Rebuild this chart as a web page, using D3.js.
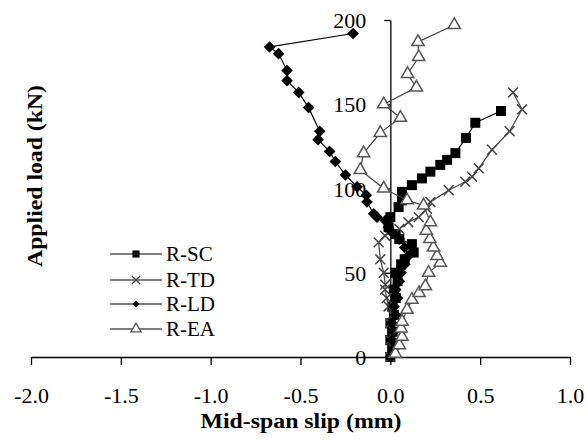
<!DOCTYPE html>
<html><head><meta charset="utf-8">
<script src="https://cdn.jsdelivr.net/npm/d3@7"></script>
<style>body{margin:0;background:#fff}svg{display:block}</style>
</head><body><div id="chart"></div>
<script>
const xTicks = [-2.0, -1.5, -1.0, -0.5, 0.0, 0.5, 1.0];
const yTicks = [0, 50, 100, 150, 200];
const seriesNames = ["R-SC", "R-TD", "R-LD", "R-EA"];

const rSC = [[0.0,0],[0.01,5],[0.0,10],[0.01,15],[0.0,20],[0.02,25],[0.01,30],[0.03,35],[0.02,40],[0.04,45],[0.03,50],[0.06,55],[0.08,58],[0.13,62],[0.12,67],[0.05,70],[0.03,73],[-0.01,77],[0.0,83],[0.046,89],[0.065,93],[0.065,98],[0.12,102],[0.176,106],[0.223,110],[0.278,114],[0.316,117],[0.362,121],[0.421,130],[0.473,139],[0.616,146]];
const rTD = [[0.0,0],[0.02,5],[0.0,10],[0.02,15],[0.0,20],[0.01,25],[-0.01,30],[-0.02,35],[-0.03,40],[-0.028,43],[-0.037,50],[-0.056,58],[-0.065,68],[-0.03,72],[0.05,76],[0.10,80],[0.158,83],[0.204,88],[0.223,92],[0.325,99],[0.417,104],[0.455,107],[0.492,112],[0.566,123],[0.664,134],[0.733,147],[0.683,157]];
const rLD = [[0.0,0],[0.02,5],[0.01,10],[0.02,15],[0.01,20],[0.03,25],[0.02,30],[0.04,35],[0.03,40],[0.05,45],[0.06,50],[0.08,55],[0.1,60],[0.08,65],[0.05,70],[0.01,74],[-0.011,77],[-0.028,81],[-0.074,83],[-0.093,85],[-0.13,92],[-0.134,96],[-0.185,101],[-0.25,108],[-0.306,116],[-0.338,122],[-0.402,129],[-0.393,134],[-0.455,148],[-0.51,157],[-0.575,164],[-0.575,170],[-0.622,180],[-0.672,184],[-0.207,192]];
const rEA = [[0.028,2],[0.05,7],[0.065,12],[0.06,17],[0.065,21],[0.093,28],[0.12,34],[0.16,38],[0.195,42],[0.213,50],[0.278,56],[0.26,60],[0.24,65],[0.22,70],[0.2,75],[0.223,80],[0.185,90],[0.093,93],[-0.037,100],[-0.167,111],[-0.149,121],[-0.056,133],[0.056,142],[-0.037,150],[0.145,160],[0.096,168],[0.158,178],[0.154,187],[0.356,197]];

const W = 587, H = 441;
const svg = d3.select("#chart").append("svg").attr("width", W).attr("height", H);
const x = d3.scaleLinear().domain([-2, 1]).range([31, 570]);
const y = d3.scaleLinear().domain([0, 200]).range([357, 20]);
const font = "'Liberation Serif','Times New Roman',serif";

// axes
const xAxis = svg.append("g").attr("transform", `translate(0,${y(0)})`)
  .call(d3.axisBottom(x).tickValues(xTicks).tickSize(8).tickSizeOuter(0).tickFormat(d => d.toFixed(1)));
xAxis.select(".domain").attr("stroke", "#000").attr("stroke-width", 1.3);
xAxis.selectAll(".tick line").attr("stroke", "#000").attr("stroke-width", 1.3);
xAxis.selectAll("text").attr("font-family", font).attr("font-size", 22).attr("fill", "#000").attr("dy", null).attr("y", 46);

const yAxis = svg.append("g").attr("transform", `translate(${x(0)},0)`)
  .call(d3.axisLeft(y).tickValues(yTicks).tickSize(6).tickSizeOuter(0).tickFormat(d3.format("d")));
yAxis.select(".domain").attr("stroke", "#000").attr("stroke-width", 1.3);
yAxis.selectAll(".tick line").attr("stroke", "#000").attr("stroke-width", 1.3);
yAxis.selectAll("text").attr("font-family", font).attr("font-size", 22).attr("fill", "#000").attr("x", -24).attr("dy", "0.35em");

// titles
svg.append("text").attr("x", 301).attr("y", 428).attr("text-anchor", "middle")
  .attr("font-family", font).attr("font-weight", "bold").attr("font-size", 22)
  .attr("textLength", 201).attr("lengthAdjust", "spacingAndGlyphs").text("Mid-span slip (mm)");
svg.append("text").attr("transform", "translate(42,176) rotate(-90)").attr("text-anchor", "middle")
  .attr("font-family", font).attr("font-weight", "bold").attr("font-size", 22)
  .attr("textLength", 182).attr("lengthAdjust", "spacingAndGlyphs").text("Applied load (kN)");

const line = d3.line().x(d => x(d[0])).y(d => y(d[1]));
const styles = [
  {data: rSC, stroke: "#000", sym: d3.symbolSquare, size: 100, fill: "#000", mstroke: "none", lsize: 50, rot: 0},
  {data: rTD, stroke: "#444", sym: d3.symbolX, size: 65, fill: "none", mstroke: "#444", lsize: 45, rot: 0},
  {data: rLD, stroke: "#000", sym: d3.symbolSquare, size: 68, fill: "#000", mstroke: "none", lsize: 24, rot: 45},
  {data: rEA, stroke: "#444", sym: d3.symbolTriangle, size: 65, fill: "#fff", mstroke: "#555", lsize: 45, rot: 0}
];

styles.forEach(s => {
  const g = svg.append("g");
  g.append("path").datum(s.data).attr("d", line).attr("fill", "none").attr("stroke", s.stroke).attr("stroke-width", 1.2);
  g.selectAll("path.m").data(s.data).join("path").attr("class", "m")
    .attr("transform", d => `translate(${x(d[0])},${y(d[1])}) rotate(${s.rot})`)
    .attr("d", d3.symbol().type(s.sym).size(s.size))
    .attr("fill", s.fill).attr("stroke", s.mstroke).attr("stroke-width", 1.5);
});

// legend
const legY = [254, 280, 304, 329];
seriesNames.forEach((n, i) => {
  const s = styles[i];
  const g = svg.append("g").attr("transform", `translate(0,${legY[i]})`);
  g.append("line").attr("x1", 110).attr("x2", 162).attr("y1", 0).attr("y2", 0).attr("stroke", "#000").attr("stroke-width", 1.2);
  g.append("path").attr("transform", `translate(136,0) rotate(${s.rot})`).attr("d", d3.symbol().type(s.sym).size(s.lsize))
    .attr("fill", s.fill).attr("stroke", s.mstroke).attr("stroke-width", 1.3);
  g.append("text").attr("x", 166).attr("y", 7).attr("font-family", font).attr("font-size", 21).text(n);
});
</script></body></html>
